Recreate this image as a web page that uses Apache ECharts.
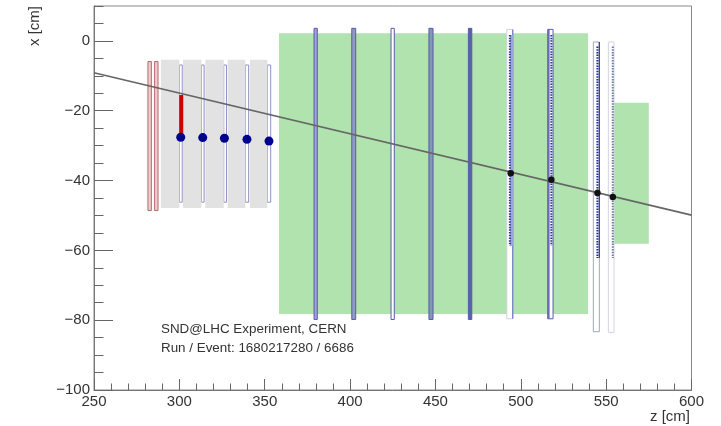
<!DOCTYPE html>
<html>
<head>
<meta charset="utf-8">
<style>html,body{margin:0;padding:0;background:#fff}#c{width:721px;height:426px}</style>
<script src="https://cdn.jsdelivr.net/npm/echarts@6/dist/echarts.min.js"></script>
</head>
<body>
<div id="c"></div>
<script>
// Rectangles: [z0, z1, x0, x1] in cm
const vetoPlanes = [[281.6,283.6,-48.6,-5.9],[285.5,287.5,-48.6,-5.9]];
const ironWalls = [[289.2,300,-47.9,-5.4],[302.1,312.9,-47.9,-5.4],[315.2,326,-47.9,-5.4],[328.3,338.6,-47.9,-5.4],[341.4,351.5,-47.9,-5.4]];
const scifiPlanes = [[300,301.7,-46.2,-6.9],[312.9,314.5,-46.2,-6.9],[326,327.6,-46.2,-6.9],[338.6,340.6,-46.2,-6.9],[351.5,353.5,-46.2,-6.9]];
const muonIron = [[358.4,539.4,-78.2,2.2],[554.2,575,-58.1,-17.7]];
const upstreamPlanes = [[378.9,380.8,-79.8,3.6],[401,403.3,-79.8,3.6],[424,425.9,-79.8,3.6],[446.2,448.6,-79.8,3.6],[469.3,471.3,-79.8,3.6]];
const upstreamFills = ['#9fa3d6','#8f9bc0','#ffffff','#7f9ab5','#5565a8'];
const downstreamPlanes = [[491.8,495.3,-79.6,3.3],[515.8,518.9,-79.6,3.3],[542.5,546,-83.3,-0.3],[551.3,554.6,-83.5,-0.3]];
const downstreamEdges = ['#d0d0e0','#5a5ab0','#a4a4c4','#d4d4e0'];
const strip1 = [[493.6,1.7],[493.6,-58.7]];
const strip2 = [[517.9,1.7],[517.9,-58.7]];
const strip3 = [[544.9,-1.6],[544.9,-62.2]];
const strip4 = [[553.9,-1.6],[553.9,-62.2]];
const band1 = [[494.6,1.7],[494.6,-58.7]];
const band2 = [[516.3,3.3],[516.3,-79.6]];
const edge1 = [[495.3,3.3],[495.3,-79.6]];
const edge3 = [[546,-0.3],[546,-62.2]];
const trackLine = [[250,-9.1],[600,-49.9]];
const scifiHits = [[300.8,-27.6],[313.7,-27.7],[326.4,-27.9],[339.6,-28.2],[352.5,-28.7]];
const dsHits = [[494.1,-37.9],[517.9,-39.8],[544.9,-43.6],[553.9,-44.7]];
const redBar = [[301.1,-15.5],[301.1,-27.4]];
const notes = ['SND@LHC Experiment, CERN','Run / Event: 1680217280 / 6686'];
const xTitle = 'z [cm]';

function rects(data, z, styleFn){
  return {type:'custom',data:data,z:z,silent:true,clip:true,animation:false,
    encode:{x:[0,1],y:[2,3]},
    renderItem:function(p,api){
      const a=api.coord([api.value(0),api.value(3)]);
      const b=api.coord([api.value(1),api.value(2)]);
      return {type:'rect',shape:{x:a[0],y:a[1],width:b[0]-a[0],height:b[1]-a[1]},style:styleFn(p.dataIndex)};
    }};
}
function poly(data,color,width,z,dash,op){
  return {type:'line',data:data,z:z,symbol:'none',silent:true,animation:false,
    lineStyle:{color:color,width:width,type:dash||'solid',opacity:op==null?1:op}};
}
function dots(data,color,size,z){
  return {type:'scatter',data:data,z:z,symbolSize:size,silent:true,animation:false,itemStyle:{color:color,opacity:1}};
}
const FONT='"Liberation Sans",Arial,sans-serif';
const TXT='#333';
const chart=echarts.init(document.getElementById('c'),null,{renderer:'canvas'});
chart.setOption({
  animation:false,
  backgroundColor:'#fff',
  grid:{left:94,right:29.5,top:6,bottom:36,show:true,outerBoundsMode:'none',borderColor:'#888',borderWidth:1,backgroundColor:'transparent'},
  xAxis:{type:'value',min:250,max:600,interval:50,
    axisLine:{show:true,onZero:false,lineStyle:{color:'#777',width:1}},
    axisTick:{show:true,inside:true,length:11,lineStyle:{color:'#666'}},
    minorTick:{show:true,splitNumber:5,length:6.5,lineStyle:{color:'#666'}},
    splitLine:{show:false},minorSplitLine:{show:false},
    axisLabel:{color:TXT,fontFamily:FONT,fontSize:15,margin:4,hideOverlap:false}},
  yAxis:[{type:'value',min:-100,max:10,interval:20,name:'x [cm]',nameLocation:'end',nameGap:0,nameRotate:90,
    nameTextStyle:{color:TXT,fontFamily:FONT,fontSize:15,align:'right',verticalAlign:'bottom',padding:[0,0,52,0]},
    axisLine:{show:true,onZero:false,lineStyle:{color:'#777',width:1}},
    axisTick:{show:true,inside:true,length:19,lineStyle:{color:'#666'}},
    splitLine:{show:false},
    axisLabel:{color:TXT,fontFamily:FONT,fontSize:15,margin:4,showMaxLabel:false,hideOverlap:false,
      formatter:function(v){return String(v).replace('-','\u2212');}}},
   {type:'value',min:-100,max:10,interval:5,position:'left',
    axisLine:{show:false},
    axisTick:{show:true,inside:true,length:9.5,lineStyle:{color:'#666'}},
    splitLine:{show:false},axisLabel:{show:false}}],
  graphic:[
    {type:'text',left:161,top:323,silent:true,style:{text:notes[0],font:'13.4px '+FONT,fill:TXT}},
    {type:'text',left:161,top:342,silent:true,style:{text:notes[1],font:'13.4px '+FONT,fill:TXT}},
    {type:'text',right:31,top:409,silent:true,style:{text:xTitle,font:'15px '+FONT,fill:TXT}}
  ],
  series:[
    rects(vetoPlanes,2,()=>({fill:'#eccccc',stroke:'#b86a6a',lineWidth:1})),
    rects(scifiPlanes,2,()=>({fill:'#ffffff',stroke:'#8f8fc0',lineWidth:1})),
    rects(ironWalls,3,()=>({fill:'#e2e2e2'})),
    rects(muonIron,4,()=>({fill:'#b1e3af'})),
    rects(upstreamPlanes,5,i=>({fill:upstreamFills[i],stroke:'#5a5aa8',lineWidth:1})),
    rects(downstreamPlanes,5,i=>({fill:'#ffffff',stroke:downstreamEdges[i],lineWidth:1})),
    poly(edge1,'#6a7ac0',1.2,6),
    poly(edge3,'#3a3a90',1.2,6),
    poly(band1,'#9aa6d8',3,6),
    poly(band2,'#6a6ac0',2,6),
    poly(strip1,'#2a3a80',2,7,[1.5,1.2]),
    poly(strip2,'#2a3a80',2,7,[1.5,1.2]),
    poly(strip3,'#1a2a90',2,7,[1.5,1.2]),
    poly(strip4,'#6a7aa0',2,7,[1.5,1.2]),
    poly(trackLine,'#666666',1.6,8),
    poly(redBar,'#cc0000',4,9),
    dots(scifiHits,'#00008f',9,10),
    dots(dsHits,'#111111',6.5,10)
  ]
});
</script>
</body>
</html>
